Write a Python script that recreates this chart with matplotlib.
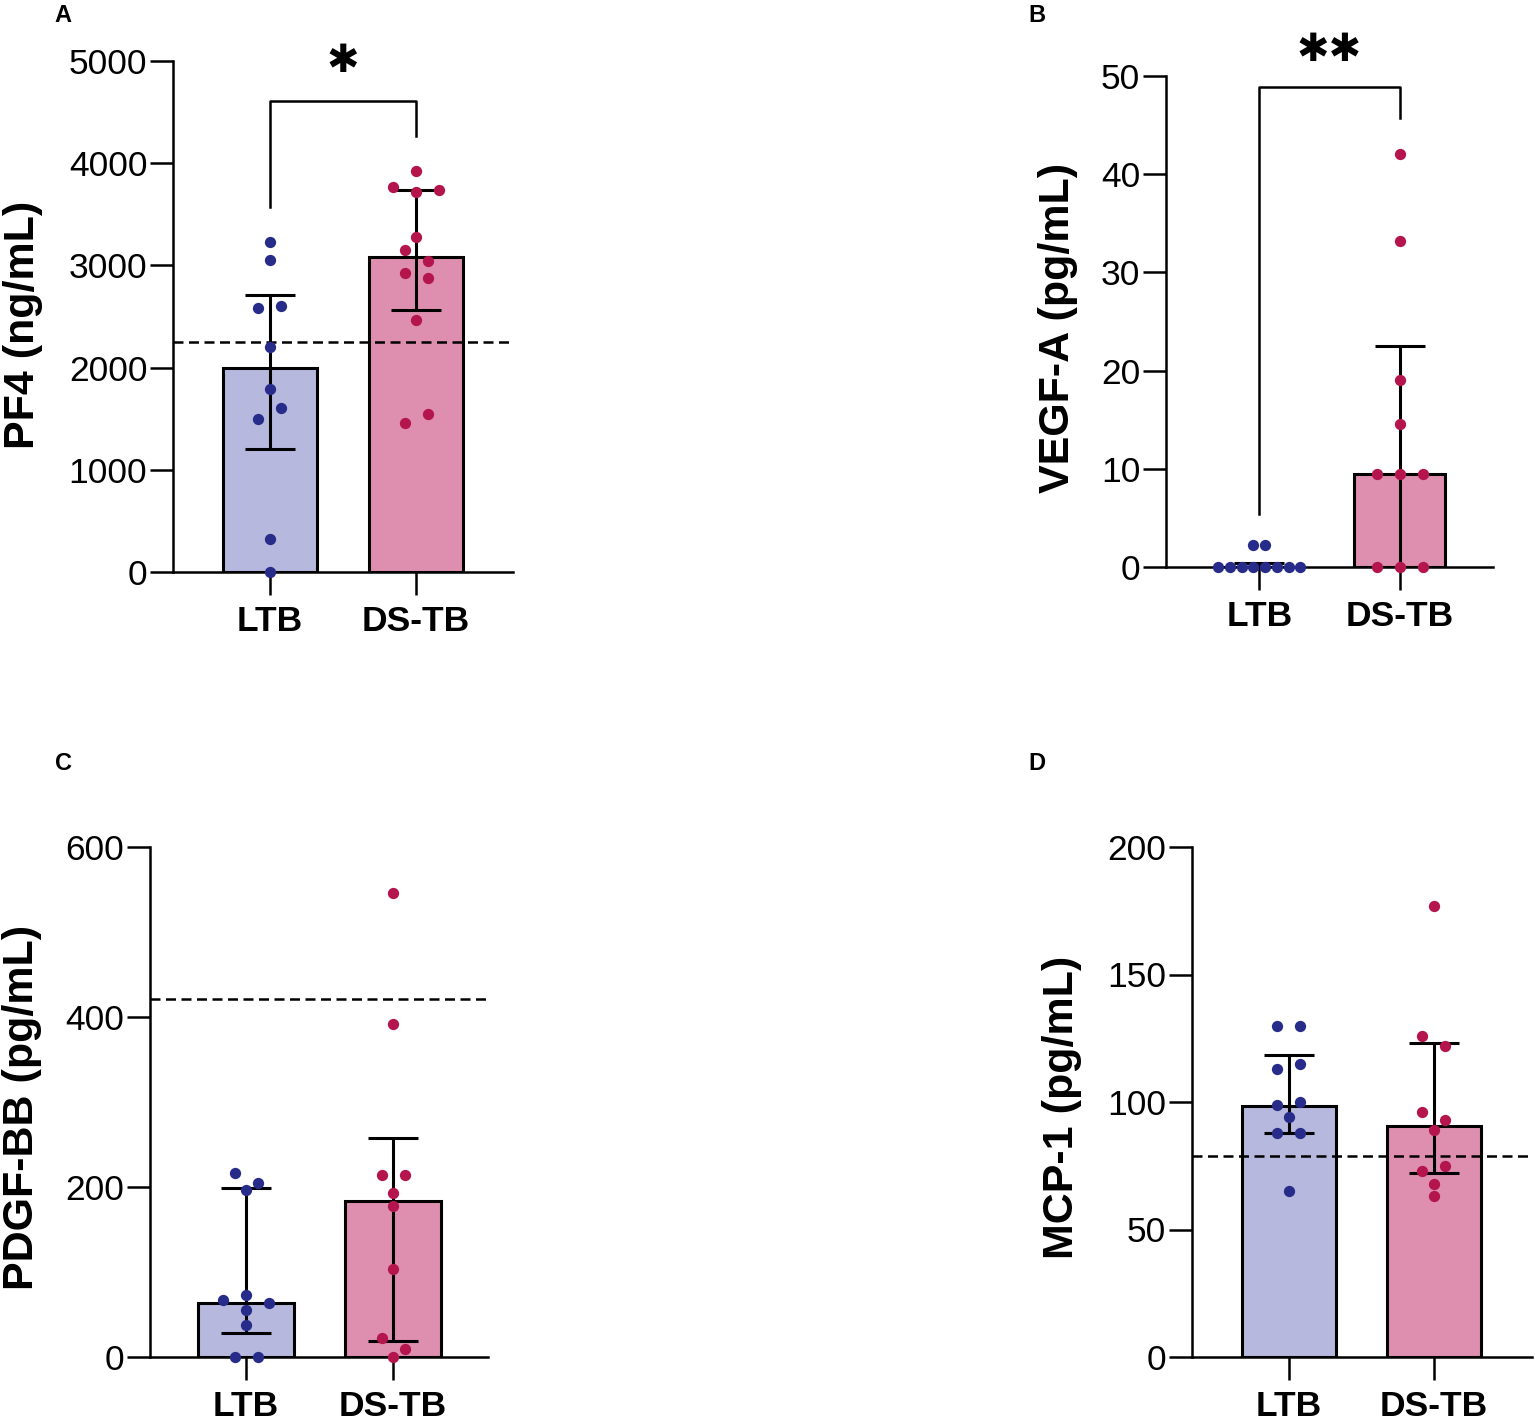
import matplotlib
matplotlib.use('Agg')
import matplotlib.pyplot as plt
import numpy as np

plt.rcParams['font.family'] = ['Liberation Sans', 'DejaVu Sans']

groups = ['LTB', 'DS-TB']

# PF4 (ng/mL)
pf4_ltb = [3232, 3057, 2588, 2598, 2197, 1787, 1494, 1602, 322, 0]
pf4_ds = [3926, 3770, 3721, 3740, 3281, 3154, 3047, 2930, 2881, 2461, 1455, 1543]
pf4_bar = [1992, 3080]
pf4_lo = [1201, 2562]
pf4_hi = [2715, 3740]
pf4_ref = 2246

# VEGF-A (pg/mL)
vegf_ltb = [2.2, 2.2, 0, 0, 0, 0, 0, 0, 0, 0]
vegf_ds = [42.1, 33.2, 19.0, 14.6, 9.5, 9.5, 9.5, 0, 0, 0]
vegf_bar = [0, 9.5]
vegf_lo = [0, 0]
vegf_hi = [0.4, 22.5]

# PDGF-BB (pg/mL)
pdgf_ltb = [216, 205, 196, 67, 73, 64, 55, 38, 0, 0]
pdgf_ds = [546, 392, 214, 214, 193, 178, 104, 22, 9, 0]
pdgf_bar = [64, 184]
pdgf_lo = [28, 19]
pdgf_hi = [199, 258]
pdgf_ref = 421

# MCP-1 (pg/mL)
mcp_ltb = [130, 130, 113, 115, 99, 100, 94, 88, 88, 65]
mcp_ds = [177, 126, 122, 96, 93, 89, 73, 75, 68, 63]
mcp_bar = [98.5, 90.6]
mcp_lo = [88, 72]
mcp_hi = [118.5, 123]
mcp_ref = 79

bar_colors = ['#b6b8de', '#de8fb0']
dot_colors = ['#272c8a', '#b3154c']
W, H = 1535, 1425
BAR_W = 0.65


def swarm_x(ax, xc, vals, bar_px):
    # lay points out in rows like a column scatter, done in pixel space
    vals = list(vals)
    ypx = [ax.transData.transform((xc, v))[1] for v in vals]
    order = sorted(range(len(vals)), key=lambda i: -vals[i])
    rows, cur, anchor = [], [], None
    for i in order:
        if anchor is not None and abs(ypx[i] - anchor) < 12.5:
            cur.append(i)
        else:
            if cur:
                rows.append(cur)
            cur, anchor = [i], ypx[i]
    rows.append(cur)
    nmax = max(len(r) for r in rows)
    step = 23.0 if nmax < 2 else min(23.0, 0.9 * bar_px / (nmax - 1))
    x0 = ax.transData.transform((xc, 0))[0]
    xs = [0.0] * len(vals)
    for r in rows:
        r = sorted(r)
        n = len(r)
        for k, i in enumerate(r):
            px = x0 + (k - (n - 1) / 2) * step
            xs[i] = ax.transData.inverted().transform((px, ypx[i]))[0]
    return xs


def panel(rect, xlim, ylim, yticks, ltb, ds, bars, lo, hi, ylabel, lab_xy, ref=None):
    ax = fig.add_axes(rect)
    ax.set_xlim(*xlim)
    ax.set_ylim(*ylim)
    xpos = np.arange(2)
    bars = np.array(bars, float)
    ax.bar(xpos, bars, width=BAR_W, color=bar_colors, edgecolor='black',
           linewidth=2.2, zorder=2)
    if ref is not None:
        ax.axhline(ref, color='black', lw=1.8, dashes=(4, 2.2), zorder=2.5)
    ax.errorbar(xpos, bars, yerr=[bars - np.array(lo), np.array(hi) - bars], fmt='none',
                ecolor='black', elinewidth=2.2, capsize=18, capthick=2.2, zorder=3)
    bar_px = BAR_W * rect[2] * W / (xlim[1] - xlim[0])
    for j, vals in enumerate([ltb, ds]):
        xs = swarm_x(ax, j, vals, bar_px)
        ax.scatter(xs, vals, s=66, color=dot_colors[j], linewidths=0, zorder=4, clip_on=False)
    ax.set_yticks(yticks)
    ax.set_xticks(xpos, groups, fontsize=31, fontweight='bold',
                  family=['Liberation Sans Narrow', 'Liberation Sans'])
    ax.tick_params(axis='both', length=16.5, width=1.8, labelsize=25.5, pad=2)
    ax.tick_params(axis='x', pad=7)
    for s in ['top', 'right']:
        ax.spines[s].set_visible(False)
    for s in ['left', 'bottom']:
        ax.spines[s].set_linewidth(1.8)
    ax.set_ylabel(ylabel, fontsize=31, fontweight='bold', rotation=90,
                  ha='center', va='center', rotation_mode='default')
    ax.yaxis.set_label_coords(*lab_xy)
    return ax


fig = plt.figure(figsize=(W / 100, H / 100), dpi=100)

axA = panel([173 / W, 1 - 572 / H, 340 / W, 511 / H], (-0.664, 1.664), (0, 5000),
            [0, 1000, 2000, 3000, 4000, 5000], pf4_ltb, pf4_ds, pf4_bar, pf4_lo, pf4_hi,
            'PF4 (ng/mL)', (-0.441, 0.484), ref=pf4_ref)
axA.plot([0, 0, 1, 1], [3571, 4609, 4609, 4266], color='black', lw=1.8, clip_on=False)
axA.text(0.5, 5000, '\u2731', ha='center', va='center', fontsize=28,
         family='DejaVu Sans')

axB = panel([1166 / W, 1 - 567 / H, 327 / W, 491 / H], (-0.664, 1.664), (0, 50),
            [0, 10, 20, 30, 40, 50], vegf_ltb, vegf_ds, vegf_bar, vegf_lo, vegf_hi,
            'VEGF-A (pg/mL)', (-0.330, 0.487))
axB.plot([0, 0, 1, 1], [5.4, 48.9, 48.9, 45.7], color='black', lw=1.8, clip_on=False)
axB.text(0.5, 52.6, '\u2731\u2731', ha='center', va='center', fontsize=28,
         family='DejaVu Sans')

panel([150 / W, 1 - 1357 / H, 338 / W, 510 / H], (-0.653, 1.646), (0, 600),
      [0, 200, 400, 600], pdgf_ltb, pdgf_ds, pdgf_bar, pdgf_lo, pdgf_hi,
      'PDGF-BB (pg/mL)', (-0.379, 0.490), ref=pdgf_ref)

panel([1192 / W, 1 - 1357 / H, 340 / W, 510 / H], (-0.669, 1.676), (0, 200),
      [0, 50, 100, 150, 200], mcp_ltb, mcp_ds, mcp_bar, mcp_lo, mcp_hi,
      'MCP-1 (pg/mL)', (-0.382, 0.490), ref=mcp_ref)

for lab, (px, py) in zip('ABCD', [(63, 15), (1037, 15), (63, 763), (1037, 763)]):
    fig.text(px / W, 1 - py / H, lab, ha='center', va='center', fontsize=17, fontweight='bold')

fig.savefig('out.png', dpi=100)
